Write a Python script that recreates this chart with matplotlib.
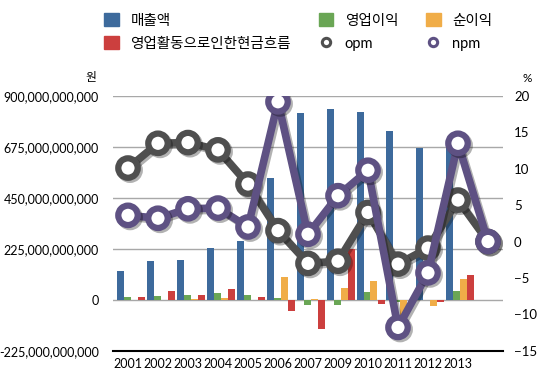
import numpy as np
import matplotlib
matplotlib.use("Agg")
import matplotlib.pyplot as plt
from matplotlib.patches import Patch
from matplotlib.lines import Line2D
import matplotlib.patheffects as pe
from matplotlib.ticker import FuncFormatter

plt.rcParams["font.family"] = ["Lato", "Noto Sans CJK KR", "DejaVu Sans"]

# categories (last slot has no label, only line points)
years = ["2001", "2002", "2003", "2004", "2005", "2006", "2007",
         "2009", "2010", "2011", "2012", "2013", ""]

# bar series, in 1e9 won (12 labelled years)
sales = [127, 171, 176, 229, 261, 538, 826, 842, 830, 745, 672, 686]
op_income = [10, 18, 23, 28, 19, 6, -24, -24, 33, -12, -3, 38]
net_income = [0, 0, 5, 8, 0, 100, 5, 52, 83, -128, -28, 92]
op_cashflow = [13, 38, 19, 46, 10, -51, -127, 225, -20, 0, -11, 110]

# ratio series, % (13 points)
opm = [10.1, 13.5, 13.6, 12.6, 7.9, 1.5, -3.0, -2.7, 4.0, -3.1, -0.9, 5.7, 0]
npm = [3.6, 3.2, 4.5, 4.6, 2.0, 19.2, 1.0, 6.3, 9.8, -11.8, -4.3, 13.5, 0]

BLUE = "#3d6a9c"
GREEN = "#6aa655"
ORANGE = "#f0ad48"
RED = "#cc3f3e"
OPM_C = "#4f4f4f"
NPM_C = "#5e5183"

fig = plt.figure(figsize=(5.39, 3.76), dpi=100)
ax = fig.add_axes([113 / 539, 25.3 / 376, 390 / 539, 254.7 / 376])

x = np.arange(len(years))
xb = x[:len(sales)]
w = 7 / 30
bar_series = [(sales, BLUE), (op_income, GREEN), (net_income, ORANGE), (op_cashflow, RED)]
for i, (vals, col) in enumerate(bar_series):
    ax.bar(xb + (-11.5 + 7 * i + 3.5) / 30, np.array(vals) * 1e9, width=w,
           color=col, zorder=2)

ax.set_xlim(-0.5, len(years) - 0.5)
ax.set_ylim(-225e9, 900e9)
ax.set_yticks(np.arange(-225e9, 900e9 + 1, 225e9))
ax.yaxis.set_major_formatter(FuncFormatter(lambda v, p: f"{int(round(v)):,}"))
ax.grid(axis="y", color="#a8a8a8", linewidth=1, zorder=0)
ax.set_axisbelow(True)
ax.set_xticks(x)
ax.set_xticklabels(years)
for s in ["top", "right", "left"]:
    ax.spines[s].set_visible(False)
ax.spines["bottom"].set_linewidth(1.5)
ax.spines["bottom"].set_color("black")
ax.tick_params(axis="both", length=0, labelsize=9, colors="black")
ax.tick_params(axis="x", pad=5)
ax.tick_params(axis="y", pad=10)

ax2 = ax.twinx()
ax2.set_ylim(-15, 20)
ax2.set_yticks(np.arange(-15, 21, 5))
for s in ["top", "right", "left", "bottom"]:
    ax2.spines[s].set_visible(False)
ax2.tick_params(axis="y", length=0, labelsize=9.5, pad=8)

shadow = [pe.SimpleLineShadow(offset=(1.5, -1.5), alpha=0.3), pe.Normal()]
for vals, col in [(opm, OPM_C), (npm, NPM_C)]:
    ax2.plot(x, vals, color=col, linewidth=5.5, marker="o", markersize=14,
             markerfacecolor="white", markeredgecolor=col, markeredgewidth=4.5,
             path_effects=shadow, zorder=3)

fig.text(96 / 539, 1 - 78 / 376, "원", fontsize=8.5, ha="right", va="center")
fig.text(527 / 539, 1 - 78 / 376, "%", fontsize=8.5, ha="center", va="center")

handles = [
    Patch(color=BLUE, label="매출액"),
    Patch(color=RED, label="영업활동으로인한현금흐름"),
    Patch(color=GREEN, label="영업이익"),
    Line2D([], [], color=OPM_C, marker="o", linestyle="none", markersize=6,
           markerfacecolor="white", markeredgewidth=2.2, label="opm"),
    Patch(color=ORANGE, label="순이익"),
    Line2D([], [], color=NPM_C, marker="o", linestyle="none", markersize=6,
           markerfacecolor="white", markeredgewidth=2.2, label="npm"),
]
fig.legend(handles=handles, ncol=3, loc="upper left", bbox_to_anchor=(91 / 539, 1.0),
           frameon=False, fontsize=10.5, handlelength=1.0, handleheight=1.0,
           handletextpad=0.8, columnspacing=1.9, labelspacing=0.6)

fig.savefig("out.png", dpi=100)
